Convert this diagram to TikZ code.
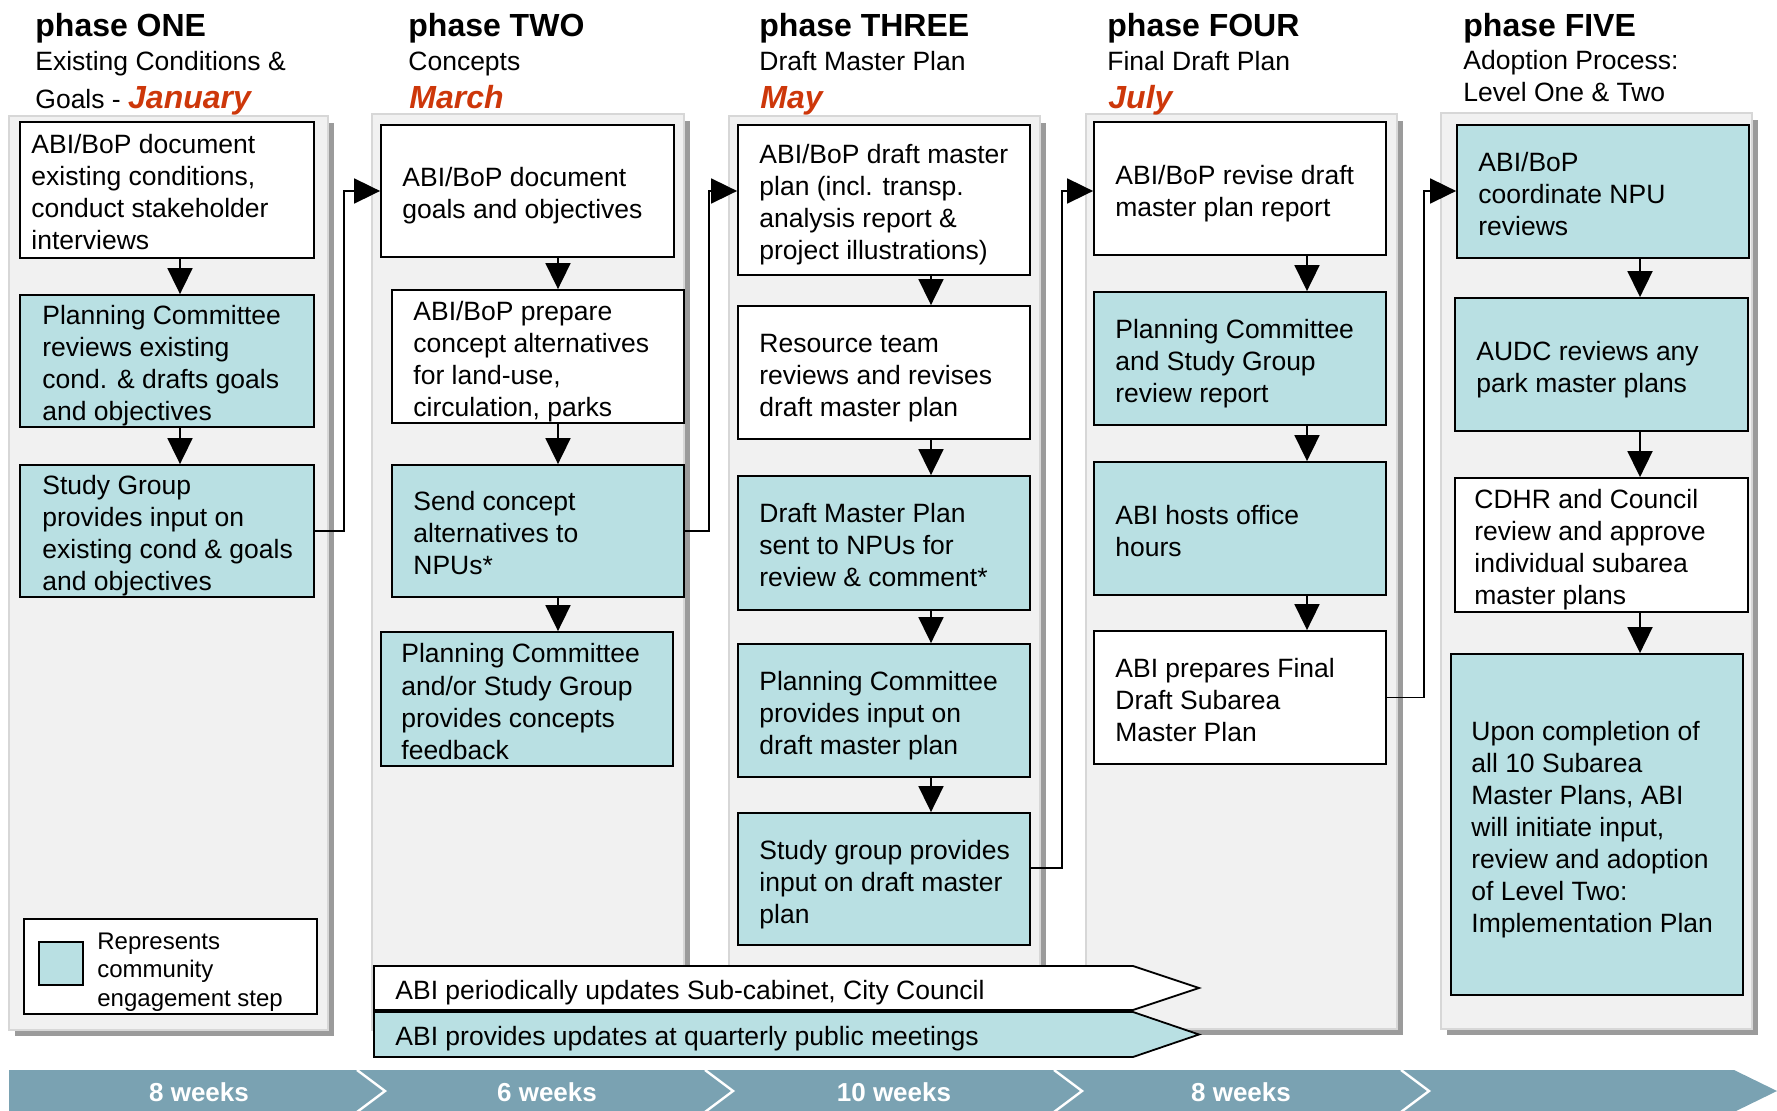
\documentclass[tikz,border=0pt]{standalone}
\usepackage{fontspec}
\setmainfont{Liberation Sans}
\usetikzlibrary{arrows.meta}
\definecolor{tealbox}{RGB}{185,224,227}
\definecolor{panelfill}{RGB}{241,241,241}
\definecolor{panelline}{RGB}{215,215,215}
\definecolor{shadecol}{RGB}{155,155,155}
\definecolor{barcol}{RGB}{122,162,178}
\definecolor{monthred}{RGB}{205,55,10}
\newcommand\boxfont{\fontsize{13.25}{16}\selectfont}
\newcommand\monfont{\fontsize{16}{19}\selectfont\bfseries\itshape\color{monthred}}
\newcommand\lnstrut{\rule[-3.5pt]{0pt}{16pt}}
\newcommand\mybox[8]{%
 \pgfmathsetmacro\bxBW{(#5-#3)/2}%
 \pgfmathsetmacro\bxBH{(#6-#4)/2}%
 \pgfmathsetmacro\bxCX{(#3+#5)/2}%
 \pgfmathsetmacro\bxCY{(#4+#6)/2}%
 \pgfmathsetmacro\bxTY{(#4+#6)/2+3}%
 \pgfmathsetmacro\bxTX{#3+#7}%
 \node[#2, minimum width=\bxBW pt, minimum height=\bxBH pt] (#1) at (\bxCX,\bxCY) {};
 \node[boxtext] (#1t) at (\bxTX,\bxTY) {\lnstrut#8\lnstrut};}
\tikzset{
 boxw/.style={draw, line width=0.9pt, fill=white, inner sep=0pt},
 boxt/.style={boxw, fill=tealbox},
 boxtext/.style={anchor=west, align=left, font=\boxfont, inner sep=0pt},
 arr/.style={line width=0.9pt, -{Triangle[length=13pt,width=12.5pt]}},
 panel/.style={fill=panelfill, draw=panelline, line width=0.7pt},
 hd/.style={font=\fontsize{16}{19}\selectfont\bfseries, inner sep=0pt, anchor=base west},
 sub/.style={font=\boxfont, inner sep=0pt, anchor=base west},
 mon/.style={font=\monfont, inner sep=0pt, anchor=base west},
 wk/.style={font=\fontsize{13}{15}\selectfont\bfseries, text=white, inner sep=0pt},
 bantext/.style={font=\boxfont, inner sep=0pt, anchor=west}
}
\begin{document}
\begin{tikzpicture}[x=0.5pt,y=-0.5pt]
\useasboundingbox (0,0) rectangle (1777,1111);
% panels with shadows
\foreach \xa/\ya/\xb/\yb in {9/116/328/1030, 372/114/684/1030, 729/116/1040/1030, 1086/114/1397/1029, 1441/113/1752/1029}{
  \fill[shadecol] (\xa+6,\ya+7) rectangle (\xb+6,\yb+6);
  \filldraw[panel] (\xa,\ya) rectangle (\xb,\yb);
}
% headers
\node[hd] (h1) at (35,37) {phase ONE};
\node[sub] (h1a) at (35,71) {Existing Conditions \&};
\node[sub] (h1b) at (35,109) {Goals - {\monfont January}};
\node[hd] (h2) at (408,37) {phase TWO};
\node[sub] (h2a) at (408,71) {Concepts};
\node[mon] (h2b) at (409,109) {March};
\node[hd] (h3) at (759,37) {phase THREE};
\node[sub] (h3a) at (759,71) {Draft Master Plan};
\node[mon] (h3b) at (760,109) {May};
\node[hd] (h4) at (1107,37) {phase FOUR};
\node[sub] (h4a) at (1107,71) {Final Draft Plan};
\node[mon] (h4b) at (1108,109) {July};
\node[hd] (h5) at (1463,37) {phase FIVE};
\node[sub] (h5a) at (1463,70) {Adoption Process:};
\node[sub] (h5b) at (1463,102) {Level One \& Two};
% column 1
\mybox{b11}{boxw}{20}{122}{314}{258}{11}{ABI/BoP document\\existing conditions,\\conduct stakeholder\\interviews}
\mybox{b12}{boxt}{20}{295}{314}{427}{22}{Planning Committee\\reviews existing\\cond. \& drafts goals\\and objectives}
\mybox{b13}{boxt}{20}{465}{314}{597}{22}{Study Group\\provides input on\\existing cond \& goals\\and objectives}
% column 2
\mybox{b21}{boxw}{381}{125}{674}{257}{21}{ABI/BoP document\\goals and objectives}
\mybox{b22}{boxw}{392}{290}{684}{423}{21}{ABI/BoP prepare\\concept alternatives\\for land-use,\\circulation, parks}
\mybox{b23}{boxt}{392}{465}{684}{597}{21}{Send concept\\alternatives to\\NPUs*}
\mybox{b24}{boxt}{381}{632}{673}{766}{20}{Planning Committee\\and/or Study Group\\provides concepts\\feedback}
% column 3
\mybox{b31}{boxw}{738}{125}{1030}{275}{21}{ABI/BoP draft master\\plan (incl. transp.\\analysis report \&\\project illustrations)}
\mybox{b32}{boxw}{738}{306}{1030}{439}{21}{Resource team\\reviews and revises\\draft master plan}
\mybox{b33}{boxt}{738}{476}{1030}{610}{21}{Draft Master Plan\\sent to NPUs for\\review \& comment*}
\mybox{b34}{boxt}{738}{644}{1030}{777}{21}{Planning Committee\\provides input on\\draft master plan}
\mybox{b35}{boxt}{738}{813}{1030}{945}{21}{Study group provides\\input on draft master\\plan}
% column 4
\mybox{b41}{boxw}{1094}{122}{1386}{255}{21}{ABI/BoP revise draft\\master plan report}
\mybox{b42}{boxt}{1094}{292}{1386}{425}{21}{Planning Committee\\and Study Group\\review report}
\mybox{b43}{boxt}{1094}{462}{1386}{595}{21}{ABI hosts office\\hours}
\mybox{b44}{boxw}{1094}{631}{1386}{764}{21}{ABI prepares Final\\Draft Subarea\\Master Plan}
% column 5
\mybox{b51}{boxt}{1457}{125}{1749}{258}{21}{ABI/BoP\\coordinate NPU\\reviews}
\mybox{b52}{boxt}{1455}{298}{1748}{431}{21}{AUDC reviews any\\park master plans}
\mybox{b53}{boxw}{1455}{478}{1748}{612}{19}{CDHR and Council\\review and approve\\individual subarea\\master plans}
\mybox{b54}{boxt}{1451}{654}{1743}{995}{20}{Upon completion of\\all 10 Subarea\\Master Plans, ABI\\will initiate input,\\review and adoption\\of Level Two:\\Implementation Plan}
% legend
\node[draw, line width=0.9pt, fill=white, minimum width=146.5pt, minimum height=47.5pt, inner sep=0pt, anchor=north west] (leg) at (23,918) {};
\node[draw, line width=0.9pt, fill=tealbox, minimum width=22pt, minimum height=21.5pt, inner sep=0pt, anchor=north west] (legsq) at (38,941) {};
\node[anchor=west, align=left, font=\fontsize{12}{14.25}\selectfont, inner sep=0pt] (legtx) at (97,972) {Represents\\community\\engagement step};
% vertical arrows
\coordinate (a1) at (180,0);
\coordinate (a2) at (558,0);
\coordinate (a3) at (931,0);
\coordinate (a4) at (1307,0);
\coordinate (a5) at (1640,0);
\draw[arr] (b11.south -| a1) -- (b12.north -| a1);
\draw[arr] (b12.south -| a1) -- (b13.north -| a1);
\draw[arr] (b21.south -| a2) -- (b22.north -| a2);
\draw[arr] (b22.south -| a2) -- (b23.north -| a2);
\draw[arr] (b23.south -| a2) -- (b24.north -| a2);
\draw[arr] (b31.south -| a3) -- (b32.north -| a3);
\draw[arr] (b32.south -| a3) -- (b33.north -| a3);
\draw[arr] (b33.south -| a3) -- (b34.north -| a3);
\draw[arr] (b34.south -| a3) -- (b35.north -| a3);
\draw[arr] (b41.south -| a4) -- (b42.north -| a4);
\draw[arr] (b42.south -| a4) -- (b43.north -| a4);
\draw[arr] (b43.south -| a4) -- (b44.north -| a4);
\draw[arr] (b51.south -| a5) -- (b52.north -| a5);
\draw[arr] (b52.south -| a5) -- (b53.north -| a5);
\draw[arr] (b53.south -| a5) -- (b54.north -| a5);
% phase-to-phase connectors
\coordinate (k1) at (344,191);
\coordinate (k2) at (709,191);
\coordinate (k3) at (1062,191);
\coordinate (k4) at (1424,191);
\coordinate (s3) at (0,868);
\draw[arr] (b13.east) -| (k1) -- (b21.west |- k1);
\draw[arr] (b23.east) -| (k2) -- (b31.west |- k2);
\draw[arr] (b35.east |- s3) -| (k3) -- (b41.west |- k3);
\draw[arr] (b44.east) -| (k4) -- (b51.west |- k4);
% banners
\filldraw[fill=white, draw=black, line width=0.9pt] (374,966) -- (1133,966) -- (1199,988) -- (1133,1010) -- (374,1010) -- cycle;
\node[bantext] (ban1) at (395,992.5) {ABI periodically updates Sub-cabinet, City Council};
\filldraw[fill=tealbox, draw=black, line width=0.9pt] (374,1012) -- (1133,1012) -- (1199,1034.5) -- (1133,1057) -- (374,1057) -- cycle;
\node[bantext] (ban2) at (395,1039) {ABI provides updates at quarterly public meetings};
% bottom timeline bar
\fill[barcol] (9,1070) -- (1734,1070) -- (1777,1091) -- (1734,1112) -- (9,1112) -- cycle;
\foreach \xc in {357,705,1054,1401}{
  \draw[white, line width=1.2pt] (\xc,1070) -- (\xc+28,1091) -- (\xc,1112);
}
\node[wk] (w1) at (199,1092) {8 weeks};
\node[wk] (w2) at (547,1092) {6 weeks};
\node[wk] (w3) at (894,1092) {10 weeks};
\node[wk] (w4) at (1241,1092) {8 weeks};
\end{tikzpicture}
\end{document}
